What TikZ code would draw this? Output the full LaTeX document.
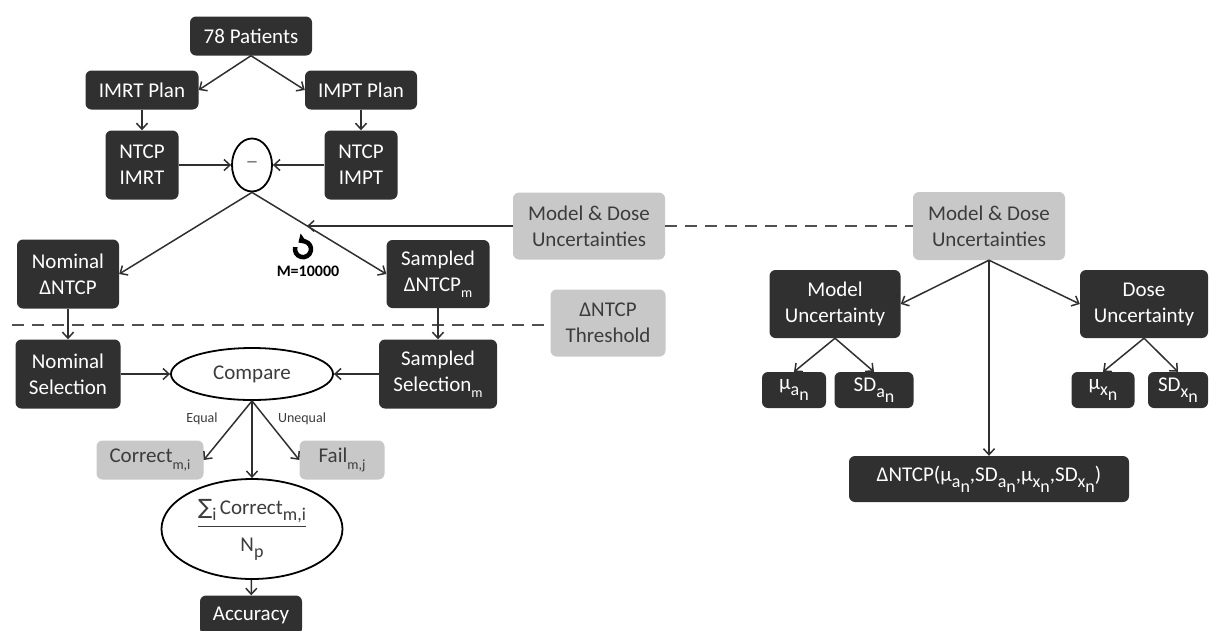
\documentclass[tikz,border=0pt]{standalone}
\usepackage{fontspec}
\setmainfont{Carlito}
\newfontfamily\symfont{DejaVu Sans}
\usetikzlibrary{shapes.geometric,arrows.meta,positioning,calc}
\definecolor{boxdark}{HTML}{303030}
\definecolor{boxlight}{HTML}{C8C8C8}
\definecolor{inkgray}{HTML}{3C3C3C}
\definecolor{dashgray}{HTML}{505050}
\newcommand\lbl{\fontsize{21}{26}\selectfont}
\newcommand\lo[1]{\raisebox{-0.3em}{\fontsize{14}{14}\selectfont #1}}
\newcommand\dlo[2]{\raisebox{-0.3em}{\fontsize{18}{18}\selectfont #1\raisebox{-0.25em}{#2}}}

\begin{document}
\begin{tikzpicture}[x=1pt,y=-1pt,
  tile/.style={rounded corners=6pt,inner sep=0pt,align=center,font=\lbl},
  darkbox/.style={tile,fill=boxdark,text=white},
  lightbox/.style={tile,fill=boxlight,text=inkgray},
  oval/.style={ellipse,draw=black,line width=1.8pt,fill=white,inner sep=0pt,font=\lbl,text=inkgray},
  flow/.style={draw=boxdark,line width=1.5pt,-{Straight Barb[length=6pt,width=11pt]}},
  cutline/.style={draw=dashgray,line width=2pt,dash pattern=on 12pt off 8pt},
  tag/.style={font=\fontsize{14}{16}\selectfont,text=inkgray}]
\useasboundingbox (0,0) rectangle (1210,630);
% planning branch
\node[darkbox,minimum width=122,minimum height=39] (pat) at (251,36) {78 Patients};
\node[darkbox,minimum width=113,minimum height=39] (imrt) at (142,90) {IMRT Plan};
\node[darkbox,minimum width=112,minimum height=39] (impt) at (361,90) {IMPT Plan};
\node[darkbox,minimum width=73,minimum height=69] (ntrt) at (142,165) {NTCP\\IMRT};
\node[darkbox,minimum width=73,minimum height=69] (ntpt) at (361,165) {NTCP\\IMPT};
\node[oval,minimum width=40,minimum height=53,text=gray,font=\fontsize{26}{26}\selectfont] (minus) at (252,165) {--};
\node[darkbox,minimum width=102,minimum height=69] (nomd) at (68,274) {Nominal\\ΔNTCP};
\node[darkbox,minimum width=103,minimum height=68] (samd) at (438,274) {Sampled\\ΔNTCP\lo{m}};
\node[lightbox,minimum width=152,minimum height=67] (unca) at (589,226) {Model \& Dose\\Uncertainties};
\node[lightbox,minimum width=115,minimum height=67] (thr) at (608,323) {ΔNTCP\\Threshold};
\node[font=\fontsize{16}{18}\selectfont\bfseries] (runs) at (308,271) {M=10000};
% selection and comparison
\node[darkbox,minimum width=105,minimum height=69] (nomsel) at (68,374) {Nominal\\Selection};
\node[oval,minimum width=162,minimum height=52] (cmp) at (252,374) {Compare};
\node[darkbox,minimum width=118,minimum height=69] (samsel) at (438,374) {Sampled\\Selection\lo{m}};
\node[tag] (eq) at (202,419) {Equal};
\node[tag] (neq) at (302,419) {Unequal};
\node[lightbox,minimum width=107,minimum height=39] (corr) at (150,460) {Correct\lo{m,i}};
\node[lightbox,minimum width=85,minimum height=39] (fail) at (342,460) {Fail\lo{m,j}};
\node[oval,minimum width=181,minimum height=100] (frac) at (252,529)
  {\setlength\arrayrulewidth{1.6pt}\begin{tabular}{@{}c@{}}{\symfont ∑}\dlo{i}{}\,Correct\dlo{m,i}{}\\[4pt]\hline\rule{0pt}{24pt}N\dlo{p}{}\end{tabular}};
\node[darkbox,minimum width=102,minimum height=39] (acc) at (251,615) {Accuracy};
% uncertainty model
\node[lightbox,minimum width=152,minimum height=68] (uncb) at (989,226) {Model \& Dose\\Uncertainties};
\node[darkbox,minimum width=131,minimum height=68] (modu) at (835,304) {Model\\Uncertainty};
\node[darkbox,minimum width=128,minimum height=68] (dosu) at (1144,304) {Dose\\Uncertainty};
\node[darkbox,minimum width=64,minimum height=36] (mua) at (794,390) {μ\dlo{a}{n}};
\node[darkbox,minimum width=79,minimum height=36] (sda) at (874,390) {SD\dlo{a}{n}};
\node[darkbox,minimum width=63,minimum height=36] (mux) at (1103,390) {μ\dlo{x}{n}};
\node[darkbox,minimum width=60,minimum height=36] (sdx) at (1178,390) {SD\dlo{x}{n}};
\node[darkbox,minimum width=280,minimum height=46] (dntcp) at (989,479)
  {ΔNTCP(μ\dlo{a}{n},SD\dlo{a}{n},μ\dlo{x}{n},SD\dlo{x}{n})};

\draw[flow] (pat.south) -- (imrt.east);
\draw[flow] (pat.south) -- (impt.west);
\draw[flow] (imrt) -- (ntrt);
\draw[flow] (impt) -- (ntpt);
\draw[flow] (ntrt) -- (minus);
\draw[flow] (ntpt) -- (minus);
\draw[flow] (minus.south) -- (nomd.east);
\draw[flow] (minus.south) -- (samd.west);
\coordinate (hit) at ($(minus.south)!0.41!(samd.west)$);
\draw[flow] (unca.west) -- (unca.west -| hit);
\draw[cutline] (unca.east) -- (uncb.west);
\coordinate (cutstart) at (12,325);
\draw[cutline] (cutstart) -- (cutstart -| thr.west);
% loop sign above the run count
\coordinate (loop) at ($(runs.north)+(-5,-13)$);
\draw[line width=4.5pt,-{Triangle[length=7pt,width=12pt]}] (loop) ++(-165:8) arc[start angle=-165,end angle=-485,radius=8];
\draw[flow] (nomd) -- (nomsel);
\draw[flow] (samd) -- (samsel);
\draw[flow] (nomsel) -- (cmp);
\draw[flow] (samsel) -- (cmp);
\draw[flow] (cmp.south) -- (corr.east);
\draw[flow] (cmp.south) -- (fail.west);
\draw[flow] (cmp) -- (frac);
\draw[flow] (frac) -- (acc);
\draw[flow] (uncb.south) -- (modu.east);
\draw[flow] (uncb.south) -- (dosu.west);
\draw[flow] (uncb) -- (dntcp);
\draw[flow] (modu.south) -- (mua.north);
\draw[flow] (modu.south) -- (sda.north);
\draw[flow] (dosu.south) -- (mux.north);
\draw[flow] (dosu.south) -- (sdx.north);
\end{tikzpicture}
\end{document}
